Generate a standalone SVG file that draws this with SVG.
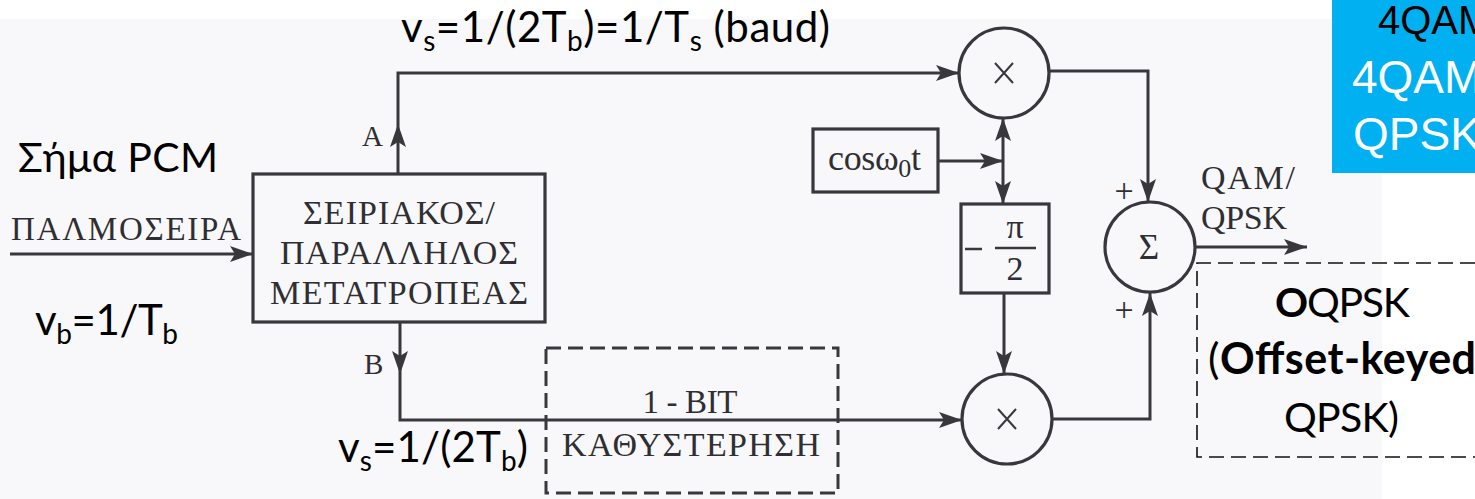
<svg xmlns="http://www.w3.org/2000/svg" width="1475" height="499" viewBox="0 0 1475 499">
<style>
.l{fill:none;stroke:#38383c;stroke-width:3}
.n{fill:none;stroke:#38383c;stroke-width:3.2}
.dl{fill:none;stroke:#38383c;stroke-width:3;stroke-dasharray:15 7}
.s{font-family:"Liberation Serif",serif;fill:#2f2f33}
.c{font-family:Lato,"Open Sans",sans-serif;fill:#000}
.a{font-family:"Liberation Sans",Arial,sans-serif;fill:#fff}
.m{text-anchor:middle}
</style>
<defs>
<marker id="ah" markerUnits="userSpaceOnUse" markerWidth="24" markerHeight="18" refX="23" refY="9" orient="auto">
<path d="M0 1 L23 9 L0 17 L5 9 Z" fill="#38383c"/>
</marker>
</defs>
<rect id="paper" x="0" y="19" width="1382" height="480" fill="#f8f8fb"/>
<g id="connectors">
<path class="l" d="M10 254 H253" marker-end="url(#ah)"/>
<path class="l" d="M398 174 V124" marker-end="url(#ah)"/>
<path class="l" d="M398 124 V73 H959" marker-end="url(#ah)"/>
<path class="l" d="M400 322 V374" marker-end="url(#ah)"/>
<path class="l" d="M400 374 V420 H962" marker-end="url(#ah)"/>
<path class="l" d="M939 161 H1003" marker-end="url(#ah)"/>
<path class="l" d="M1003 161 V118" marker-end="url(#ah)"/>
<path class="l" d="M1003 161 V204" marker-end="url(#ah)"/>
<path class="l" d="M1004 293 V374" marker-end="url(#ah)"/>
<path class="l" d="M1049 71 H1148 V202" marker-end="url(#ah)"/>
<path class="l" d="M1052 419 H1150 V293" marker-end="url(#ah)"/>
<path class="l" d="M1195 247 H1307" marker-end="url(#ah)"/>
</g>
<g id="converter">
<rect class="n" x="253" y="174" width="292" height="148"/>
<text class="s m" font-size="34" x="399" y="224" textLength="192">ΣΕΙΡΙΑΚΟΣ/</text>
<text class="s m" font-size="34" x="399" y="264" textLength="238">ΠΑΡΑΛΛΗΛΟΣ</text>
<text class="s m" font-size="34" x="399" y="304" textLength="258">ΜΕΤΑΤΡΟΠΕΑΣ</text>
</g>
<g id="input-labels">
<text class="s" font-size="33" x="11" y="240" textLength="230">ΠΑΛΜΟΣΕΙΡΑ</text>
<text class="c" font-size="41" x="18" y="172" textLength="200">Σήμα PCM</text>
<text class="c" font-size="42" x="35" y="335" textLength="143">v<tspan font-size="28" dy="9">b</tspan><tspan dy="-9">=1/T</tspan><tspan font-size="28" dy="9">b</tspan></text>
<text class="s" font-size="29" x="362" y="146">A</text>
<text class="s" font-size="29" x="364" y="374">B</text>
</g>
<g id="rate-labels">
<text class="c" font-size="42" x="401" y="42" textLength="429">v<tspan font-size="28" dy="9">s</tspan><tspan dy="-9">=1/(2T</tspan><tspan font-size="28" dy="9">b</tspan><tspan dy="-9">)=1/T</tspan><tspan font-size="28" dy="9">s</tspan><tspan dy="-9"> (baud)</tspan></text>
<text class="c" font-size="42" x="338" y="462" textLength="190">v<tspan font-size="28" dy="9">s</tspan><tspan dy="-9">=1/(2T</tspan><tspan font-size="28" dy="9">b</tspan><tspan dy="-9">)</tspan></text>
</g>
<g id="delay">
<rect class="dl" x="546" y="348" width="292" height="145"/>
<text class="s m" font-size="33" x="690" y="413" textLength="95">1 - BIT</text>
<text class="s m" font-size="34" x="691" y="456" textLength="258">ΚΑΘΥΣΤΕΡΗΣΗ</text>
</g>
<g id="mixer-top">
<circle class="n" cx="1004" cy="73" r="45"/>
<path d="M995 63 L1013 83 M1013 63 L995 83" fill="none" stroke="#38383c" stroke-width="2"/>
</g>
<g id="mixer-bottom">
<circle class="n" cx="1007" cy="419" r="45"/>
<path d="M998 409 L1016 429 M1016 409 L998 429" fill="none" stroke="#38383c" stroke-width="2"/>
</g>
<g id="oscillator">
<rect class="n" x="813" y="129" width="125" height="63"/>
<text class="s" font-size="36" x="828" y="170" textLength="93">cosω<tspan font-size="26" dy="7">0</tspan><tspan dy="-7">t</tspan></text>
</g>
<g id="phase-shift">
<rect class="n" x="961" y="204" width="88" height="89"/>
<path d="M965 249 H982 M995 248 H1036" fill="none" stroke="#38383c" stroke-width="2.4"/>
<text class="s m" font-size="34" x="1015" y="238">π</text>
<text class="s m" font-size="34" x="1015" y="280">2</text>
</g>
<g id="summer">
<circle class="n" cx="1150" cy="247" r="45"/>
<text class="s m" font-size="35" x="1149" y="259">Σ</text>
<text class="s m" font-size="34" x="1124" y="202">+</text>
<text class="s m" font-size="34" x="1124" y="321">+</text>
</g>
<g id="output-label">
<text class="s" font-size="34" x="1201" y="189" textLength="94">QAM/</text>
<text class="s" font-size="34" x="1201" y="229" textLength="86">QPSK</text>
</g>
<g id="oqpsk">
<path d="M1475 263 H1197 V457 H1475" fill="none" stroke="#111" stroke-width="1.6" stroke-dasharray="15 7"/>
<text class="c" font-size="41" x="1275" y="317" textLength="135"><tspan font-weight="700">O</tspan>QPSK</text>
<text class="c" font-size="43" x="1208" y="374" textLength="268">(<tspan font-weight="700">Offset-keyed</tspan></text>
<text class="c" font-size="41" x="1284" y="432" textLength="115">QPSK)</text>
</g>
<g id="badge">
<rect x="1332" y="0" width="143" height="173" fill="#00b0f0"/>
<text class="a" font-size="40" style="fill:#000" x="1378" y="34">4QAM</text>
<text class="a" font-size="46" x="1352" y="93">4QAM</text>
<text class="a" font-size="46" x="1353" y="150">QPSK</text>
</g>
</svg>
